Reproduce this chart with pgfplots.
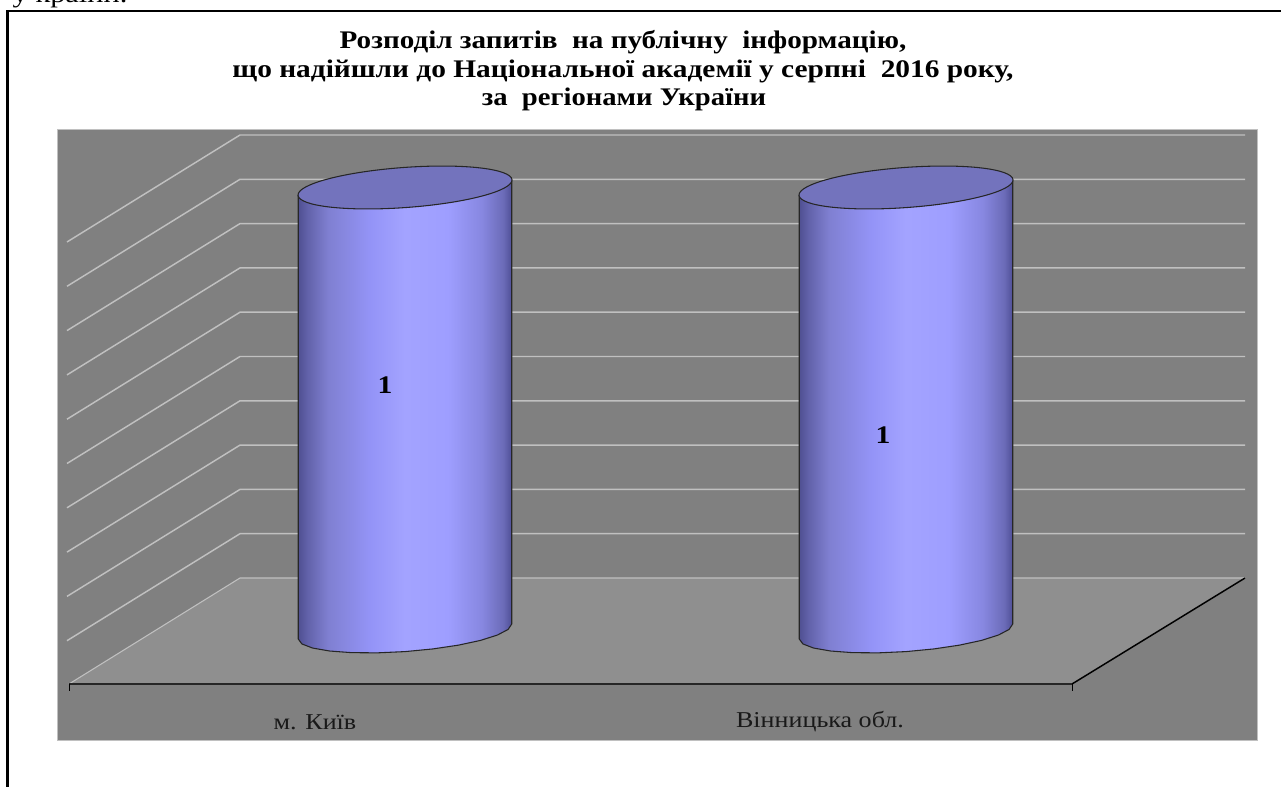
\documentclass[border=0pt]{standalone}
\usepackage{graphicx}
\usepackage{pgfplots}
\pgfplotsset{compat=1.18}
\usepackage{fontspec}
\setmainfont{Liberation Serif}
\definecolor{panel}{HTML}{808080}
\definecolor{floorc}{HTML}{8F8F8F}
\definecolor{gridc}{HTML}{C0C0C0}
\definecolor{captop}{HTML}{7373BD}
\pgfdeclarehorizontalshading{cyl}{100bp}{
  rgb(0bp)=(0.31,0.31,0.57);
  rgb(25bp)=(0.31,0.31,0.57);
  rgb(27bp)=(0.38,0.38,0.66);
  rgb(32bp)=(0.50,0.50,0.82);
  rgb(42bp)=(0.58,0.58,0.97);
  rgb(50bp)=(0.64,0.64,1);
  rgb(60bp)=(0.62,0.62,1);
  rgb(68bp)=(0.53,0.53,0.88);
  rgb(73bp)=(0.42,0.42,0.72);
  rgb(75bp)=(0.31,0.31,0.59);
  rgb(100bp)=(0.31,0.31,0.59)}
\pgfplotsset{base/.style={scale only axis,width=960.75pt,height=590.25pt,hide axis,
  xmin=0,xmax=1281},
  px/.style={base,ymin=0,ymax=787,y dir=reverse}}
\newcommand{\ttl}[2][1.17]{\scalebox{#1}[1]{\bfseries\fontsize{19pt}{20pt}\selectfont #2}}
\newcommand{\lab}[1]{\scalebox{1.15}[1]{\fontsize{17pt}{18pt}\selectfont #1}}
\begin{document}
\begin{tikzpicture}
% background, walls, floor
\begin{axis}[px,at={(0,0)}]
\addplot[fill=white,draw=none] coordinates {(0,0)(1281,0)(1281,787)(0,787)} -- cycle;
\addplot[fill=panel,draw=gridc,line width=0.6pt] coordinates {(57,129)(1257.5,129)(1257.5,740.5)(57,740.5)} -- cycle;
\addplot[fill=floorc,draw=none] coordinates {(69,684)(1072,684)(1245,578)(240,578)} -- cycle;
% back wall gridlines
\addplot[gridc,line width=1.1pt] coordinates {(1245,135)(240,135)(67,242)};
\addplot[gridc,line width=1.1pt] coordinates {(1245,179.3)(240,179.3)(67,286.3)};
\addplot[gridc,line width=1.1pt] coordinates {(1245,223.6)(240,223.6)(67,330.6)};
\addplot[gridc,line width=1.1pt] coordinates {(1245,267.9)(240,267.9)(67,374.9)};
\addplot[gridc,line width=1.1pt] coordinates {(1245,312.2)(240,312.2)(67,419.2)};
\addplot[gridc,line width=1.1pt] coordinates {(1245,356.5)(240,356.5)(67,463.5)};
\addplot[gridc,line width=1.1pt] coordinates {(1245,400.8)(240,400.8)(67,507.8)};
\addplot[gridc,line width=1.1pt] coordinates {(1245,445.1)(240,445.1)(67,552.1)};
\addplot[gridc,line width=1.1pt] coordinates {(1245,489.4)(240,489.4)(67,596.4)};
\addplot[gridc,line width=1.1pt] coordinates {(1245,533.7)(240,533.7)(67,640.7)};
\addplot[gridc,line width=0.8pt] coordinates {(1245,578)(240,578)(69,684)};
% axis lines
\addplot[black,line width=1.1pt] coordinates {(1072,684)(1245,578)};
\addplot[black!85,line width=1.5pt] coordinates {(69,684)(1072,684)};
\addplot[black,line width=0.5pt] coordinates {(69,684)(69,691)};
\addplot[black,line width=0.5pt] coordinates {(1072,684)(1072,691)};
% lower and upper body pieces of the cylinders
\addplot[shading=cyl,draw=none] coordinates {(298.25,622)(298.25,639)(301.9,643.95)(312.6,648.05)(329.5,651)(351.6,652.65)(377.4,652.85)(405,651.6)(432.6,648.96)(458.4,645.15)(480.5,640.4)(497.4,635.05)(508.1,629.45)(511.75,624)(511.75,622)} -- cycle;
\addplot[shading=cyl,draw=none] coordinates {(799.25,622)(799.25,639)(802.9,643.95)(813.6,648.05)(830.5,651)(852.6,652.65)(878.4,652.85)(906,651.6)(933.6,648.96)(959.4,645.15)(981.5,640.4)(998.4,635.05)(1009.1,629.45)(1012.75,624)(1012.75,622)} -- cycle;
\addplot[shading=cyl,draw=none] coordinates {(298.25,195)(511.75,180)(511.75,198)(298.25,198)} -- cycle;
\addplot[shading=cyl,draw=none] coordinates {(799.25,195)(1012.75,180)(1012.75,198)(799.25,198)} -- cycle;
\end{axis}
% the values
\begin{axis}[base,at={(0,0)},ymin=-0.38084,ymax=1.45794]
\addplot[ybar,bar width=160.1pt,bar shift=0pt,shading=cyl,draw=none] coordinates {(405,1)};
\addplot[ybar,bar width=160.1pt,bar shift=0pt,shading=cyl,draw=none] coordinates {(906,1)};
\end{axis}
% outlines, caps, text, frame
\begin{axis}[px,at={(0,0)}]
\addplot[black!85,line width=0.8pt] coordinates {(298.25,195)(298.25,639)(301.9,643.95)(312.6,648.05)(329.5,651)(351.6,652.65)(377.4,652.85)(405,651.6)(432.6,648.96)(458.4,645.15)(480.5,640.4)(497.4,635.05)(508.1,629.45)(511.75,624)(511.75,180)};
\addplot[black!85,line width=0.8pt] coordinates {(799.25,195)(799.25,639)(802.9,643.95)(813.6,648.05)(830.5,651)(852.6,652.65)(878.4,652.85)(906,651.6)(933.6,648.96)(959.4,645.15)(981.5,640.4)(998.4,635.05)(1009.1,629.45)(1012.75,624)(1012.75,180)};
\draw[fill=captop,draw=black!85,line width=0.8pt,rotate around={4.155:(axis cs:405,187.5)}] (axis cs:405,187.5) ellipse [x radius=80.45pt,y radius=15.04pt];
\draw[fill=captop,draw=black!85,line width=0.8pt,rotate around={4.155:(axis cs:906,187.5)}] (axis cs:906,187.5) ellipse [x radius=80.45pt,y radius=15.04pt];
\addplot[black,line width=1.9pt] coordinates {(7.5,787)(7.5,11)(1281,11)};
\node at (axis cs:623,42) {\ttl[1.15]{Розподіл запитів\hspace{.25em} на публічну\hspace{.25em} інформацію,}};
\node at (axis cs:623,71) {\ttl[1.16]{що надійшли до Національної академії у серпні\hspace{.25em} 2016 року,}};
\node at (axis cs:624,99) {\ttl[1.13]{за\hspace{.25em} регіонами України}};
\node at (axis cs:385,385) {\ttl{1}};
\node at (axis cs:883,435) {\ttl{1}};
\node[text=black!90] at (axis cs:315,722) {\lab{м. Київ}};
\node[text=black!90] at (axis cs:820,722) {\lab{Вінницька обл.}};
\node[anchor=base west] at (axis cs:8,3) {\scalebox{1.2}[1]{\fontsize{19pt}{20pt}\selectfont у країни.}};
\end{axis}
\end{tikzpicture}
\end{document}
